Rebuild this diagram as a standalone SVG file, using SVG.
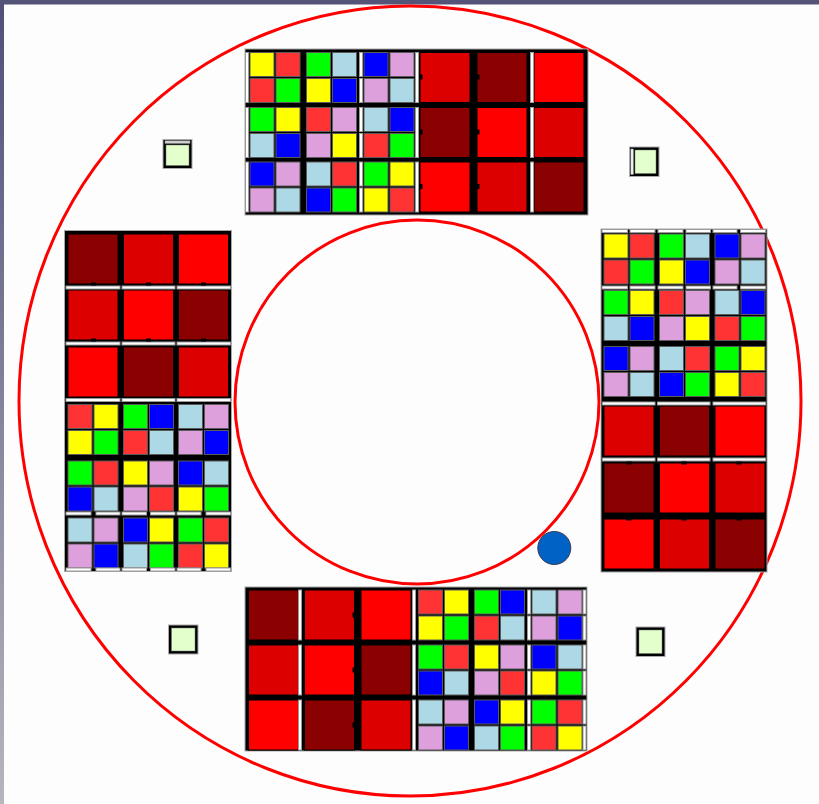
<svg xmlns="http://www.w3.org/2000/svg" width="819" height="804" viewBox="0 0 819 804">
<style>
.sq{stroke:#5a5a5a;stroke-width:1}
.sol{stroke:#000;stroke-width:1}
.blk{fill:#000;stroke:#a8a8a8;stroke-width:1}
.bar{fill:#fff;stroke:#9a9a9a;stroke-width:1}
.nt{fill:#000}
.ring{fill:none;stroke:#ff0000;stroke-width:3}
.lamp{fill:#000;stroke:#aaa;stroke-width:1}
.lampin{fill:#e2ffcc;stroke:#777;stroke-width:0.5}
</style>
<defs>
<linearGradient id="lg" x1="0" y1="0" x2="0" y2="1"><stop offset="0" stop-color="#4f4f7a"/><stop offset="1" stop-color="#b6b6be"/></linearGradient>
<rect id="sY" class="sq" width="24" height="24" fill="#ffff00"/>
<rect id="sR" class="sq" width="24" height="24" fill="#ff3333"/>
<rect id="sG" class="sq" width="24" height="24" fill="#00ff00"/>
<rect id="sL" class="sq" width="24" height="24" fill="#add8e6"/>
<rect id="sB" class="sq" width="24" height="24" fill="#0000ff"/>
<rect id="sP" class="sq" width="24" height="24" fill="#dda0dd"/>
<rect id="rD" class="sol" width="50" height="50" fill="#8b0000"/>
<rect id="rM" class="sol" width="50" height="50" fill="#dd0000"/>
<rect id="rF" class="sol" width="50" height="50" fill="#ff0000"/>
<g id="T1"><use href="#sY"/><use href="#sR" x="26"/><use href="#sR" y="26"/><use href="#sG" x="26" y="26"/></g>
<g id="T2"><use href="#sG"/><use href="#sL" x="26"/><use href="#sY" y="26"/><use href="#sB" x="26" y="26"/></g>
<g id="T3"><use href="#sB"/><use href="#sP" x="26"/><use href="#sP" y="26"/><use href="#sL" x="26" y="26"/></g>
<g id="T4"><use href="#sG"/><use href="#sY" x="26"/><use href="#sL" y="26"/><use href="#sB" x="26" y="26"/></g>
<g id="T5"><use href="#sR"/><use href="#sP" x="26"/><use href="#sP" y="26"/><use href="#sY" x="26" y="26"/></g>
<g id="T6"><use href="#sL"/><use href="#sB" x="26"/><use href="#sR" y="26"/><use href="#sG" x="26" y="26"/></g>
<g id="T7"><use href="#sB"/><use href="#sP" x="26"/><use href="#sP" y="26"/><use href="#sL" x="26" y="26"/></g>
<g id="T8"><use href="#sL"/><use href="#sR" x="26"/><use href="#sB" y="26"/><use href="#sG" x="26" y="26"/></g>
<g id="T9"><use href="#sG"/><use href="#sY" x="26"/><use href="#sY" y="26"/><use href="#sR" x="26" y="26"/></g>
<g id="B1"><use href="#sR"/><use href="#sY" x="26"/><use href="#sY" y="26"/><use href="#sG" x="26" y="26"/></g>
<g id="B2"><use href="#sG"/><use href="#sB" x="26"/><use href="#sR" y="26"/><use href="#sL" x="26" y="26"/></g>
<g id="B3"><use href="#sL"/><use href="#sP" x="26"/><use href="#sP" y="26"/><use href="#sB" x="26" y="26"/></g>
<g id="B4"><use href="#sG"/><use href="#sR" x="26"/><use href="#sB" y="26"/><use href="#sL" x="26" y="26"/></g>
<g id="B5"><use href="#sY"/><use href="#sP" x="26"/><use href="#sP" y="26"/><use href="#sR" x="26" y="26"/></g>
<g id="B6"><use href="#sB"/><use href="#sL" x="26"/><use href="#sY" y="26"/><use href="#sG" x="26" y="26"/></g>
<g id="B7"><use href="#sL"/><use href="#sP" x="26"/><use href="#sP" y="26"/><use href="#sB" x="26" y="26"/></g>
<g id="B8"><use href="#sB"/><use href="#sY" x="26"/><use href="#sL" y="26"/><use href="#sG" x="26" y="26"/></g>
<g id="B9"><use href="#sG"/><use href="#sR" x="26"/><use href="#sR" y="26"/><use href="#sY" x="26" y="26"/></g>
</defs>

<g id="background">
<rect x="0" y="0" width="819" height="804" fill="#fdfdfd"/>
<rect x="0" y="0" width="4" height="804" fill="url(#lg)"/>
<rect x="0" y="0" width="819" height="4.5" fill="#545479"/>
</g>

<g id="rings">
<ellipse class="ring" cx="410" cy="401" rx="391" ry="395"/>
<circle class="ring" cx="417" cy="402" r="182"/>
</g>

<g id="block-top">
<rect class="blk" x="245" y="49" width="343" height="166"/>
<use href="#T1" x="250" y="52.5"/><use href="#T2" x="306.5" y="52.5"/><use href="#T3" x="364" y="52.5"/>
<use href="#T4" x="250" y="107.5"/><use href="#T5" x="306.5" y="107.5"/><use href="#T6" x="364" y="107.5"/>
<use href="#T7" x="250" y="162"/><use href="#T8" x="306.5" y="162"/><use href="#T9" x="364" y="162"/>
<use href="#rM" x="420" y="52.5"/><use href="#rD" x="477" y="52.5"/><use href="#rF" x="534" y="52.5"/>
<use href="#rD" x="420" y="107.5"/><use href="#rF" x="477" y="107.5"/><use href="#rM" x="534" y="107.5"/>
<use href="#rF" x="420" y="162"/><use href="#rM" x="477" y="162"/><use href="#rD" x="534" y="162"/>
<rect class="bar" x="245.5" y="52.5" width="3" height="50"/><rect class="bar" x="245.5" y="107.5" width="3" height="50"/><rect class="bar" x="245.5" y="162" width="3" height="50"/>
<rect class="bar" x="359.5" y="52.5" width="3" height="24"/><rect class="bar" x="359.5" y="78.5" width="3" height="24"/><rect class="bar" x="359.5" y="107.5" width="3" height="24"/><rect class="bar" x="359.5" y="133.5" width="3" height="24"/><rect class="bar" x="359.5" y="162" width="3" height="24"/><rect class="bar" x="359.5" y="188" width="3" height="24"/>
<rect class="bar" x="415.5" y="52.5" width="3" height="50"/><rect class="bar" x="415.5" y="107.5" width="3" height="50"/><rect class="bar" x="415.5" y="162" width="3" height="50"/>
<rect class="bar" x="530.5" y="52.5" width="3" height="50"/><rect class="bar" x="530.5" y="107.5" width="3" height="50"/><rect class="bar" x="530.5" y="162" width="3" height="50"/>
<rect class="nt" x="419.5" y="74.5" width="3" height="5"/><rect class="nt" x="476.5" y="74.5" width="3" height="5"/>
<rect class="nt" x="419.5" y="129.5" width="3" height="5"/><rect class="nt" x="476.5" y="129.5" width="3" height="5"/>
<rect class="nt" x="419.5" y="184" width="3" height="5"/><rect class="nt" x="476.5" y="184" width="3" height="5"/>
</g>

<g id="block-bottom">
<rect class="blk" x="245" y="587" width="342" height="164"/>
<use href="#rD" x="248.5" y="590"/><use href="#rM" x="304.5" y="590"/><use href="#rF" x="361" y="590"/>
<use href="#rM" x="248.5" y="645"/><use href="#rF" x="304.5" y="645"/><use href="#rD" x="361" y="645"/>
<use href="#rF" x="248.5" y="700"/><use href="#rD" x="304.5" y="700"/><use href="#rM" x="361" y="700"/>
<use href="#B1" x="418.5" y="590"/><use href="#B2" x="474.5" y="590"/><use href="#B3" x="532" y="590"/>
<use href="#B4" x="418.5" y="645"/><use href="#B5" x="474.5" y="645"/><use href="#B6" x="532" y="645"/>
<use href="#B7" x="418.5" y="700"/><use href="#B8" x="474.5" y="700"/><use href="#B9" x="532" y="700"/>
<rect class="bar" x="298.5" y="590" width="3" height="50"/><rect class="bar" x="298.5" y="645" width="3" height="50"/><rect class="bar" x="298.5" y="700" width="3" height="50"/>
<rect class="bar" x="412.5" y="590" width="3" height="50"/><rect class="bar" x="412.5" y="645" width="3" height="50"/><rect class="bar" x="412.5" y="700" width="3" height="50"/>
<rect class="bar" x="527.5" y="590" width="3" height="24"/><rect class="bar" x="527.5" y="616" width="3" height="24"/><rect class="bar" x="527.5" y="645" width="3" height="24"/><rect class="bar" x="527.5" y="671" width="3" height="24"/><rect class="bar" x="527.5" y="700" width="3" height="24"/><rect class="bar" x="527.5" y="726" width="3" height="24"/>
<rect class="bar" x="583" y="590" width="3" height="24"/><rect class="bar" x="583" y="616" width="3" height="24"/><rect class="bar" x="583" y="645" width="3" height="24"/><rect class="bar" x="583" y="671" width="3" height="24"/><rect class="bar" x="583" y="700" width="3" height="24"/><rect class="bar" x="583" y="726" width="3" height="24"/>
<rect class="nt" x="352.5" y="612.5" width="3" height="5"/><rect class="nt" x="352.5" y="667.5" width="3" height="5"/><rect class="nt" x="352.5" y="722.5" width="3" height="5"/>
</g>

<g id="block-left">
<rect class="blk" x="64.5" y="230.5" width="167" height="341"/>
<use href="#rD" x="68" y="234"/><use href="#rM" x="123.5" y="234"/><use href="#rF" x="178.5" y="234"/>
<use href="#rM" x="68" y="290"/><use href="#rF" x="123.5" y="290"/><use href="#rD" x="178.5" y="290"/>
<use href="#rF" x="68" y="347"/><use href="#rD" x="123.5" y="347"/><use href="#rM" x="178.5" y="347"/>
<use href="#B1" x="68" y="404.5"/><use href="#B2" x="123.5" y="404.5"/><use href="#B3" x="178.5" y="404.5"/>
<use href="#B4" x="68" y="461"/><use href="#B5" x="123.5" y="461"/><use href="#B6" x="178.5" y="461"/>
<use href="#B7" x="68" y="518"/><use href="#B8" x="123.5" y="518"/><use href="#B9" x="178.5" y="518"/>
<rect class="bar" x="66" y="286" width="54" height="3"/><rect class="bar" x="122" y="286" width="53" height="3"/><rect class="bar" x="177" y="286" width="53.5" height="3"/>
<rect class="bar" x="66" y="342" width="54" height="3"/><rect class="bar" x="122" y="342" width="53" height="3"/><rect class="bar" x="177" y="342" width="53.5" height="3"/>
<rect class="bar" x="66" y="398.5" width="54" height="3"/><rect class="bar" x="122" y="398.5" width="53" height="3"/><rect class="bar" x="177" y="398.5" width="53.5" height="3"/>
<rect class="bar" x="66" y="512" width="25" height="3"/><rect class="bar" x="96" y="512" width="24" height="3"/><rect class="bar" x="122" y="512" width="24.5" height="3"/><rect class="bar" x="150.5" y="512" width="24.5" height="3"/><rect class="bar" x="177" y="512" width="24" height="3"/><rect class="bar" x="206" y="512" width="24.5" height="3"/>
<rect class="bar" x="66" y="568" width="25" height="3"/><rect class="bar" x="96" y="568" width="24" height="3"/><rect class="bar" x="122" y="568" width="24.5" height="3"/><rect class="bar" x="150.5" y="568" width="24.5" height="3"/><rect class="bar" x="177" y="568" width="24" height="3"/><rect class="bar" x="206" y="568" width="24.5" height="3"/>
<rect class="nt" x="91" y="282.5" width="5" height="3"/><rect class="nt" x="146" y="282.5" width="5" height="3"/><rect class="nt" x="201" y="282.5" width="5" height="3"/>
<rect class="nt" x="91" y="338.5" width="5" height="3"/><rect class="nt" x="146" y="338.5" width="5" height="3"/><rect class="nt" x="201" y="338.5" width="5" height="3"/>
</g>

<g id="block-right">
<rect class="blk" x="601" y="229" width="166" height="343"/>
<use href="#T1" x="604" y="234"/><use href="#T2" x="659.5" y="234"/><use href="#T3" x="715" y="234"/>
<use href="#T4" x="604" y="290.5"/><use href="#T5" x="659.5" y="290.5"/><use href="#T6" x="715" y="290.5"/>
<use href="#T7" x="604" y="346.5"/><use href="#T8" x="659.5" y="346.5"/><use href="#T9" x="715" y="346.5"/>
<use href="#rM" x="604" y="406"/><use href="#rD" x="659.5" y="406"/><use href="#rF" x="715" y="406"/>
<use href="#rD" x="604" y="463"/><use href="#rF" x="659.5" y="463"/><use href="#rM" x="715" y="463"/>
<use href="#rF" x="604" y="519"/><use href="#rM" x="659.5" y="519"/><use href="#rD" x="715" y="519"/>
<rect class="bar" x="602" y="229.5" width="25.5" height="3"/><rect class="bar" x="630" y="229.5" width="25" height="3"/><rect class="bar" x="658" y="229.5" width="25" height="3"/><rect class="bar" x="686" y="229.5" width="24.5" height="3"/><rect class="bar" x="713" y="229.5" width="24" height="3"/><rect class="bar" x="740.5" y="229.5" width="25" height="3"/>
<rect class="bar" x="602" y="286" width="25.5" height="3"/><rect class="bar" x="630" y="286" width="25" height="3"/><rect class="bar" x="658" y="286" width="25" height="3"/><rect class="bar" x="686" y="286" width="24.5" height="3"/><rect class="bar" x="713" y="286" width="24" height="3"/><rect class="bar" x="740.5" y="286" width="25" height="3"/>
<rect class="bar" x="602.5" y="402" width="52.5" height="3"/><rect class="bar" x="657.5" y="402" width="52.5" height="3"/><rect class="bar" x="713" y="402" width="52.5" height="3"/>
<rect class="bar" x="602.5" y="458" width="52.5" height="3"/><rect class="bar" x="657.5" y="458" width="52.5" height="3"/><rect class="bar" x="713" y="458" width="52.5" height="3"/>
<rect class="nt" x="626.5" y="461.5" width="5" height="3"/><rect class="nt" x="681.5" y="461.5" width="5" height="3"/><rect class="nt" x="736.5" y="461.5" width="5" height="3"/>
<rect class="nt" x="626.5" y="517.5" width="5" height="3"/><rect class="nt" x="681.5" y="517.5" width="5" height="3"/><rect class="nt" x="736.5" y="517.5" width="5" height="3"/>
</g>

<g id="lamp-tl">
<rect class="lamp" x="163" y="139.5" width="29" height="29"/>
<rect class="lampin" x="166" y="145" width="23" height="20.5"/>
<rect x="165" y="140.8" width="25" height="2.6" fill="#d0d0d0" stroke="#999" stroke-width="0.5"/>
</g>
<g id="lamp-tr">
<rect class="lamp" x="629.5" y="147" width="29.5" height="29.5"/>
<rect class="lampin" x="635" y="150" width="21" height="23.5"/>
<rect x="630.8" y="149" width="2.6" height="25.5" fill="#f0f0f0" stroke="#999" stroke-width="0.5"/>
</g>
<g id="lamp-bl">
<rect class="lamp" x="168.5" y="625" width="29.5" height="29"/>
<rect class="lampin" x="171.5" y="628" width="23.5" height="23"/>
</g>
<g id="lamp-br">
<rect class="lamp" x="636" y="627" width="29" height="29.5"/>
<rect class="lampin" x="639" y="630" width="23" height="23.5"/>
</g>

<g id="marker-blue">
<circle cx="554.3" cy="548" r="16.5" fill="#0062c4" stroke="#3a3a50" stroke-width="1"/>
</g>
</svg>
